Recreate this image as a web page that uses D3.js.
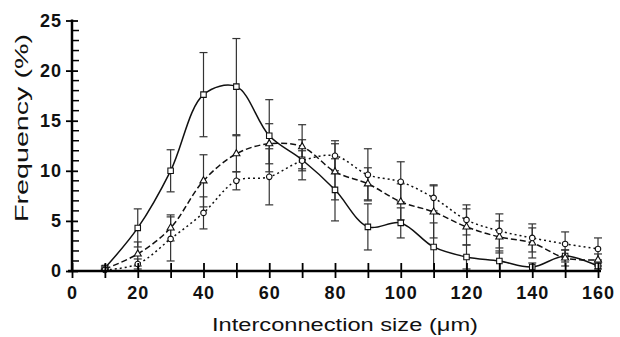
<!DOCTYPE html>
<html>
<head>
<meta charset="utf-8">
<script src="https://cdn.jsdelivr.net/npm/d3@7/dist/d3.min.js"></script>
<style>
  body { margin: 0; background: #fff; }
  svg { display: block; }
  .tick text { font-family: "Liberation Sans", Arial, sans-serif; font-weight: bold; font-size: 18px; fill: #111; }
  .title { font-family: "Liberation Sans", Arial, sans-serif; font-size: 18px; fill: #111; }
</style>
</head>
<body>
<svg width="620" height="337"></svg>
<script>
// interconnection size (um)
const sizes = [10, 20, 30, 40, 50, 60, 70, 80, 90, 100, 110, 120, 130, 140, 150, 160];

// squares, solid line
const squareMean = [0.3, 4.3, 10.0, 17.6, 18.4, 13.5, 11.1, 8.1, 4.4, 4.8, 2.4, 1.4, 1.0, 0.4, 1.5, 0.5];
const squareErr  = [0.2, 1.9, 2.1, 4.2, 4.8, 3.6, 2.0, 3.1, 2.3, 1.5, 2.4, 1.2, 1.0, 0.4, 0.6, 0.3];

// triangles, dashed line
const triMean = [0.2, 1.7, 4.3, 9.0, 11.7, 12.7, 12.4, 9.9, 8.7, 6.9, 5.9, 4.4, 3.4, 2.8, 1.3, 1.1];
const triErr  = [0.1, 1.2, 1.3, 2.6, 1.8, 2.0, 2.2, 2.8, 1.6, 1.8, 2.6, 1.8, 1.6, 1.5, 0.8, 0.6];

// circles, dotted line
const circMean = [0.1, 0.7, 3.2, 5.8, 9.0, 9.4, 11.0, 11.5, 9.6, 8.9, 7.3, 5.1, 4.0, 3.3, 2.7, 2.2];
const circErr  = [0.1, 0.5, 2.2, 1.6, 0.9, 2.8, 1.0, 1.5, 2.6, 2.0, 1.3, 1.5, 1.7, 1.4, 1.2, 1.1];

const xTicks = d3.range(0, 161, 10);
const yMajor = [0, 5, 10, 15, 20, 25];
const yMinor = d3.range(0, 26, 1).filter(d => d % 5 !== 0);

const svg = d3.select('svg');
const x = d3.scaleLinear().domain([0, 160]).range([72, 598]);
const y = d3.scaleLinear().domain([0, 25]).range([271, 20.5]);

const series = [
  { mean: squareMean, err: squareErr, dash: null, shape: d3.symbolSquare, size: 30 },
  { mean: triMean, err: triErr, dash: '6,3', shape: d3.symbolTriangle, size: 22 },
  { mean: circMean, err: circErr, dash: '2,3', shape: d3.symbolCircle, size: 24 },
];

// error bars first so markers sit on top
const errG = svg.append('g').attr('class', 'errors');
series.forEach(s => {
  const rows = sizes.map((v, i) => ({ x: v, lo: s.mean[i] - s.err[i], hi: s.mean[i] + s.err[i] }));
  const g = errG.selectAll(null).data(rows).enter().append('g');
  g.append('line')
    .attr('x1', d => x(d.x)).attr('x2', d => x(d.x))
    .attr('y1', d => y(Math.max(0, d.lo))).attr('y2', d => y(d.hi))
    .attr('stroke', '#333').attr('stroke-width', 1.2);
  g.append('line')
    .attr('x1', d => x(d.x) - 4).attr('x2', d => x(d.x) + 4)
    .attr('y1', d => y(d.hi)).attr('y2', d => y(d.hi))
    .attr('stroke', '#333').attr('stroke-width', 1.2);
  g.filter(d => d.lo > 0).append('line')
    .attr('x1', d => x(d.x) - 4).attr('x2', d => x(d.x) + 4)
    .attr('y1', d => y(d.lo)).attr('y2', d => y(d.lo))
    .attr('stroke', '#333').attr('stroke-width', 1.2);
});

// curves
const line = d3.line().x(d => x(d[0])).y(d => y(d[1])).curve(d3.curveCatmullRom.alpha(0.5));
series.forEach(s => {
  svg.append('path')
    .datum(sizes.map((v, i) => [v, s.mean[i]]))
    .attr('d', line)
    .attr('fill', 'none')
    .attr('stroke', '#111')
    .attr('stroke-width', 1.5)
    .attr('stroke-dasharray', s.dash);
});

// markers
series.forEach(s => {
  svg.append('g').selectAll('path')
    .data(sizes.map((v, i) => [v, s.mean[i]]))
    .enter().append('path')
    .attr('transform', d => `translate(${x(d[0])},${y(d[1])})`)
    .attr('d', d3.symbol().type(s.shape).size(s.size))
    .attr('fill', '#fff')
    .attr('stroke', '#111')
    .attr('stroke-width', 1.1);
});

// x axis
const xAxis = d3.axisBottom(x).tickValues(xTicks).tickSizeOuter(0)
  .tickFormat(d => d % 20 === 0 ? d : '');
const xg = svg.append('g').attr('transform', 'translate(0,271)').call(xAxis);
xg.select('.domain').attr('d', 'M68,0H601').attr('stroke', '#000').attr('stroke-width', 2.5);
xg.selectAll('.tick line').attr('y1', -8).attr('y2', 7).attr('stroke', '#000').attr('stroke-width', 1.8);
xg.selectAll('.tick text').attr('y', 15).attr('dy', '0.71em').attr('letter-spacing', 1);

// y axis
const yAxis = d3.axisLeft(y).tickValues(yMajor).tickSizeOuter(0).tickPadding(0);
const yg = svg.append('g').attr('transform', 'translate(72,0)').call(yAxis);
yg.select('.domain').attr('d', 'M0,19.5V272').attr('stroke', '#000').attr('stroke-width', 2.5);
yg.selectAll('.tick line').attr('x1', -6).attr('x2', 6).attr('stroke', '#000').attr('stroke-width', 1.8);
yg.selectAll('.tick text').attr('x', -10).attr('letter-spacing', 1);
yg.selectAll('.minor').data(yMinor).enter().append('line')
  .attr('class', 'minor')
  .attr('x1', 0).attr('x2', 7)
  .attr('y1', d => y(d)).attr('y2', d => y(d))
  .attr('stroke', '#000').attr('stroke-width', 1.5);

// axis titles
svg.append('text').attr('class', 'title')
  .attr('x', 345).attr('y', 331)
  .attr('text-anchor', 'middle')
  .attr('textLength', 266).attr('lengthAdjust', 'spacingAndGlyphs')
  .text('Interconnection size (\u03bcm)');

svg.append('text').attr('class', 'title')
  .attr('transform', 'translate(28,128) rotate(-90)')
  .attr('text-anchor', 'middle')
  .attr('textLength', 188).attr('lengthAdjust', 'spacingAndGlyphs')
  .text('Frequency (%)');
</script>
</body>
</html>
